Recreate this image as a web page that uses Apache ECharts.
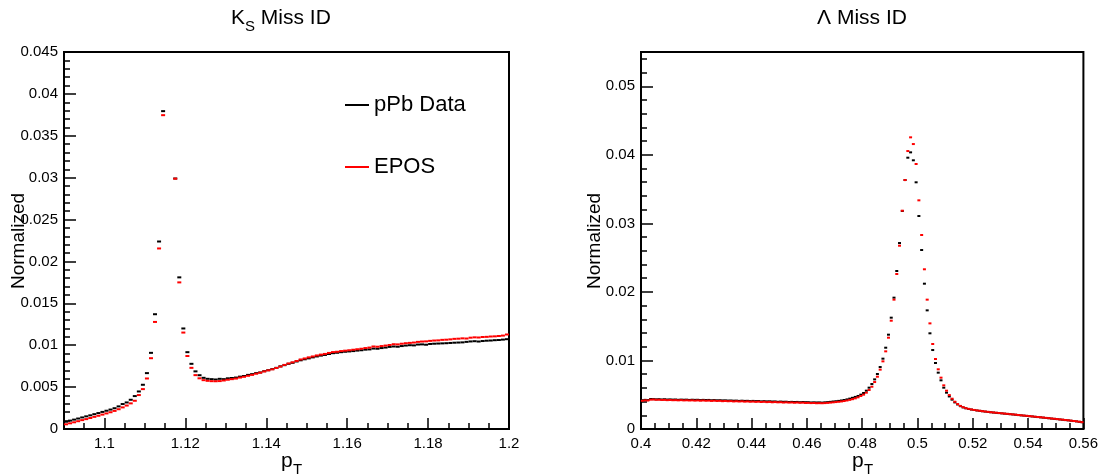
<!DOCTYPE html>
<html>
<head>
<meta charset="utf-8">
<script src="https://cdn.jsdelivr.net/npm/echarts@6/dist/echarts.min.js"></script>
<style>
html,body{margin:0;padding:0;background:#fff;}
#chart{width:1101px;height:476px;}
</style>
</head>
<body>
<div id="chart"></div>
<script>
// ---------- K_S Miss ID panel (bin centres, 0.001 wide) ----------
const ksX = [
1.0905,1.0915,1.0925,1.0935,1.0945,1.0955,1.0965,1.0975,1.0985,1.0995,
1.1005,1.1015,1.1025,1.1035,1.1045,1.1055,1.1065,1.1075,1.1085,1.1095,
1.1105,1.1115,1.1125,1.1135,1.1145,1.1175,1.1185,1.1195,
1.1205,1.1215,1.1225,1.1235,1.1245,1.1255,1.1265,1.1275,1.1285,1.1295,
1.1305,1.1315,1.1325,1.1335,1.1345,1.1355,1.1365,1.1375,1.1385,1.1395,
1.1405,1.1415,1.1425,1.1435,1.1445,1.1455,1.1465,1.1475,1.1485,1.1495,
1.1505,1.1515,1.1525,1.1535,1.1545,1.1555,1.1565,1.1575,1.1585,1.1595,
1.1605,1.1615,1.1625,1.1635,1.1645,1.1655,1.1665,1.1675,1.1685,1.1695,
1.1705,1.1715,1.1725,1.1735,1.1745,1.1755,1.1765,1.1775,1.1785,1.1795,
1.1805,1.1815,1.1825,1.1835,1.1845,1.1855,1.1865,1.1875,1.1885,1.1895,
1.1905,1.1915,1.1925,1.1935,1.1945,1.1955,1.1965,1.1975,1.1985,1.1995
];
const ksData = [
0.00087,0.00100,0.00112,0.00125,0.00138,0.00151,0.00163,0.00177,0.00190,0.00204,
0.00218,0.00232,0.00248,0.00270,0.00298,0.00317,0.00349,0.00393,0.00448,0.00528,
0.00667,0.00909,0.01370,0.02238,0.03794,0.02990,0.01810,0.01200,
0.00917,0.00778,0.00688,0.00642,0.00611,0.00599,0.00595,0.00591,0.00599,0.00595,
0.00605,0.00609,0.00614,0.00625,0.00633,0.00646,0.00655,0.00667,0.00675,0.00690,
0.00702,0.00715,0.00730,0.00748,0.00762,0.00778,0.00790,0.00806,0.00820,0.00832,
0.00843,0.00855,0.00866,0.00876,0.00884,0.00895,0.00905,0.00910,0.00917,0.00922,
0.00926,0.00930,0.00936,0.00940,0.00947,0.00950,0.00960,0.00958,0.00966,0.00972,
0.00980,0.00985,0.00982,0.00990,0.00996,0.01000,0.00998,0.01008,0.01010,0.01006,
0.01015,0.01018,0.01020,0.01022,0.01024,0.01027,0.01030,0.01032,0.01034,0.01040,
0.01045,0.01048,0.01044,0.01050,0.01054,0.01056,0.01060,0.01062,0.01067,0.01072
];
const ksEpos = [
0.00056,0.00068,0.00080,0.00093,0.00106,0.00118,0.00131,0.00145,0.00158,0.00172,
0.00186,0.00200,0.00216,0.00236,0.00258,0.00280,0.00306,0.00337,0.00405,0.00476,
0.00603,0.00845,0.01278,0.02155,0.03746,0.02988,0.01750,0.01151,
0.00871,0.00730,0.00643,0.00605,0.00583,0.00575,0.00571,0.00570,0.00572,0.00579,
0.00588,0.00595,0.00602,0.00614,0.00623,0.00635,0.00646,0.00660,0.00672,0.00687,
0.00700,0.00712,0.00728,0.00745,0.00765,0.00782,0.00796,0.00812,0.00830,0.00842,
0.00855,0.00866,0.00878,0.00888,0.00896,0.00908,0.00918,0.00922,0.00930,0.00935,
0.00940,0.00946,0.00952,0.00958,0.00966,0.00972,0.00985,0.00982,0.00990,0.00996,
0.01003,0.01012,0.01010,0.01018,0.01024,0.01028,0.01032,0.01040,0.01044,0.01046,
0.01052,0.01056,0.01058,0.01064,0.01066,0.01070,0.01076,0.01078,0.01082,0.01080,
0.01090,0.01094,0.01092,0.01098,0.01100,0.01104,0.01106,0.01110,0.01115,0.01128
];
const ksXTicks = [1.1, 1.12, 1.14, 1.16, 1.18, 1.2];
const ksYTicks = [0, 0.005, 0.01, 0.015, 0.02, 0.025, 0.03, 0.035, 0.04, 0.045];

// ---------- Lambda Miss ID panel ----------
const lamX = [
0.4005,0.4015,0.4025,0.4035,0.4045,0.4055,0.4065,0.4075,0.4085,0.4095,
0.4105,0.4115,0.4125,0.4135,0.4145,0.4155,0.4165,0.4175,0.4185,0.4195,
0.4205,0.4215,0.4225,0.4235,0.4245,0.4255,0.4265,0.4275,0.4285,0.4295,
0.4305,0.4315,0.4325,0.4335,0.4345,0.4355,0.4365,0.4375,0.4385,0.4395,
0.4405,0.4415,0.4425,0.4435,0.4445,0.4455,0.4465,0.4475,0.4485,0.4495,
0.4505,0.4515,0.4525,0.4535,0.4545,0.4555,0.4565,0.4575,0.4585,0.4595,
0.4605,0.4615,0.4625,0.4635,0.4645,0.4655,0.4665,0.4675,0.4685,0.4695,
0.4705,0.4715,0.4725,0.4735,0.4745,0.4755,0.4765,0.4775,0.4785,0.4795,
0.4805,0.4815,0.4825,0.4835,0.4845,0.4855,0.4865,0.4875,0.4885,0.4895,
0.4905,0.4915,0.4925,0.4935,0.4945,0.4955,0.4965,0.4975,0.4985,0.4995,
0.5005,0.5015,0.5025,0.5035,0.5045,0.5055,0.5065,0.5075,0.5085,0.5095,
0.5105,0.5115,0.5125,0.5135,0.5145,0.5155,0.5165,0.5175,0.5185,0.5195,
0.5205,0.5215,0.5225,0.5235,0.5245,0.5255,0.5265,0.5275,0.5285,0.5295,
0.5305,0.5315,0.5325,0.5335,0.5345,0.5355,0.5365,0.5375,0.5385,0.5395,
0.5405,0.5415,0.5425,0.5435,0.5445,0.5455,0.5465,0.5475,0.5485,0.5495,
0.5505,0.5515,0.5525,0.5535,0.5545,0.5555,0.5565,0.5575,0.5585,0.5595
];
const lamData = [
0.00420,0.00425,0.00422,0.00438,0.00436,0.00433,0.00435,0.00431,0.00434,0.00430,
0.00432,0.00429,0.00430,0.00426,0.00429,0.00427,0.00428,0.00424,0.00427,0.00425,
0.00426,0.00422,0.00425,0.00423,0.00424,0.00419,0.00422,0.00419,0.00420,0.00417,
0.00418,0.00415,0.00416,0.00413,0.00414,0.00410,0.00413,0.00410,0.00411,0.00407,
0.00410,0.00407,0.00408,0.00403,0.00406,0.00403,0.00404,0.00401,0.00402,0.00397,
0.00400,0.00397,0.00398,0.00394,0.00396,0.00394,0.00395,0.00391,0.00394,0.00391,
0.00391,0.00387,0.00389,0.00387,0.00388,0.00385,0.00389,0.00392,0.00396,0.00401,
0.00405,0.00410,0.00416,0.00423,0.00432,0.00443,0.00455,0.00468,0.00482,0.00501,
0.00525,0.00559,0.00603,0.00656,0.00724,0.00802,0.00904,0.01026,0.01186,0.01376,
0.01624,0.01916,0.02305,0.02713,0.03180,0.03632,0.03958,0.04036,0.03920,0.03599,
0.03107,0.02611,0.02120,0.01731,0.01396,0.01152,0.00963,0.00822,0.00710,0.00603,
0.00530,0.00475,0.00428,0.00388,0.00358,0.00333,0.00315,0.00302,0.00292,0.00284,
0.00277,0.00270,0.00265,0.00259,0.00254,0.00249,0.00244,0.00240,0.00236,0.00232,
0.00228,0.00224,0.00220,0.00216,0.00212,0.00208,0.00203,0.00199,0.00195,0.00191,
0.00187,0.00183,0.00178,0.00174,0.00170,0.00166,0.00161,0.00157,0.00152,0.00148,
0.00144,0.00139,0.00135,0.00130,0.00126,0.00121,0.00116,0.00111,0.00105,0.00099
];
const lamEpos = [
0.00412,0.00418,0.00416,0.00428,0.00430,0.00426,0.00427,0.00424,0.00425,0.00421,
0.00423,0.00420,0.00421,0.00418,0.00421,0.00417,0.00419,0.00416,0.00418,0.00414,
0.00417,0.00413,0.00416,0.00412,0.00414,0.00410,0.00413,0.00409,0.00411,0.00406,
0.00409,0.00405,0.00407,0.00402,0.00405,0.00401,0.00404,0.00399,0.00402,0.00398,
0.00400,0.00396,0.00399,0.00394,0.00397,0.00392,0.00395,0.00390,0.00393,0.00389,
0.00391,0.00386,0.00389,0.00385,0.00387,0.00383,0.00386,0.00382,0.00384,0.00380,
0.00381,0.00378,0.00379,0.00376,0.00377,0.00376,0.00378,0.00381,0.00385,0.00389,
0.00393,0.00397,0.00402,0.00408,0.00416,0.00425,0.00435,0.00447,0.00462,0.00482,
0.00501,0.00530,0.00569,0.00617,0.00685,0.00763,0.00866,0.00987,0.01133,0.01332,
0.01580,0.01887,0.02261,0.02674,0.03185,0.03632,0.04055,0.04255,0.04157,0.03866,
0.03336,0.02830,0.02330,0.01887,0.01541,0.01240,0.01021,0.00871,0.00749,0.00637,
0.00559,0.00495,0.00442,0.00398,0.00364,0.00337,0.00318,0.00304,0.00294,0.00285,
0.00278,0.00271,0.00266,0.00260,0.00255,0.00250,0.00245,0.00241,0.00237,0.00233,
0.00229,0.00225,0.00221,0.00217,0.00213,0.00209,0.00204,0.00200,0.00196,0.00192,
0.00188,0.00184,0.00179,0.00175,0.00171,0.00167,0.00162,0.00158,0.00153,0.00149,
0.00145,0.00140,0.00136,0.00131,0.00127,0.00122,0.00117,0.00112,0.00106,0.00100
];
const lamXTicks = [0.4, 0.42, 0.44, 0.46, 0.48, 0.5, 0.52, 0.54, 0.56];
const lamYTicks = [0, 0.01, 0.02, 0.03, 0.04, 0.05];

const seriesNames = ['pPb Data', 'EPOS'];
const titles = ['Miss ID', 'Λ Miss ID'];

// ---------- helpers (tick positions only) ----------
function steps(a, b, s) {
  const out = [];
  const n = Math.round((b - a) / s);
  for (let i = 0; i <= n; i++) out.push(+(a + i * s).toFixed(5));
  return out;
}
const FONT = 'Liberation Sans, Arial, Helvetica, sans-serif';
const fmt = v => String(parseFloat((+v).toFixed(4)));
const pairs = (xs, ys) => xs.map((x, i) => [x, ys[i]]);

function xAxes(grid, min, max, major, minor) {
  return [
    { type: 'value', gridIndex: grid, min, max, position: 'bottom',
      axisLine: { show: true, onZero: false, lineStyle: { color: '#000', width: 2 } },
      axisTick: { show: true, inside: true, length: 11, customValues: major, lineStyle: { color: '#000', width: 1.5 } },
      axisLabel: { show: true, customValues: major, formatter: fmt, color: '#000', fontSize: 15, fontFamily: FONT, margin: 7 },
      splitLine: { show: false } },
    { type: 'value', gridIndex: grid, min, max, position: 'bottom',
      axisLine: { show: false },
      axisTick: { show: true, inside: true, length: 6, customValues: minor, lineStyle: { color: '#000', width: 1.5 } },
      axisLabel: { show: false }, splitLine: { show: false } }
  ];
}
function yAxes(grid, min, max, major, minor) {
  return [
    { type: 'value', gridIndex: grid, min, max, position: 'left',
      axisLine: { show: true, onZero: false, lineStyle: { color: '#000', width: 2 } },
      axisTick: { show: true, inside: true, length: 12, customValues: major, lineStyle: { color: '#000', width: 1.5 } },
      axisLabel: { show: true, customValues: major, formatter: fmt, color: '#000', fontSize: 15, fontFamily: FONT, margin: 6 },
      splitLine: { show: false } },
    { type: 'value', gridIndex: grid, min, max, position: 'left',
      axisLine: { show: false },
      axisTick: { show: true, inside: true, length: 6, customValues: minor, lineStyle: { color: '#000', width: 1.5 } },
      axisLabel: { show: false }, splitLine: { show: false } }
  ];
}

const chart = echarts.init(document.getElementById('chart'), null, { renderer: 'canvas' });

function scatter(name, xs, ys, color, xi, yi, w) {
  return { type: 'scatter', name, xAxisIndex: xi, yAxisIndex: yi, data: pairs(xs, ys),
    symbol: 'rect', symbolSize: [w, 2], itemStyle: { color, opacity: 1 }, silent: true, animation: false };
}

const txt = (x, y, text, size, align) => ({ type: 'text', x, y, silent: true,
  style: { text, font: size + 'px ' + FONT, fill: '#000', align: align || 'left', verticalAlign: 'middle' } });

const option = {
  backgroundColor: '#fff',
  animation: false,
  grid: [
    { left: 64, top: 52, width: 445, height: 377, show: true, borderColor: '#000', borderWidth: 2, containLabel: false },
    { left: 641, top: 52, width: 446, height: 377, show: true, borderColor: '#000', borderWidth: 2, containLabel: false }
  ],
  xAxis: [].concat(
    xAxes(0, 1.09, 1.2, ksXTicks, steps(1.095, 1.195, 0.005)),
    xAxes(1, 0.4, 0.56, lamXTicks, steps(0.405, 0.555, 0.005))
  ),
  yAxis: [].concat(
    yAxes(0, 0, 0.045, ksYTicks, steps(0.001, 0.044, 0.001)),
    yAxes(1, 0, 0.055, lamYTicks, steps(0.002, 0.054, 0.002))
  ),
  legend: {
    show: true, left: 340, top: 89, orient: 'vertical', itemGap: 40,
    itemWidth: 24, itemHeight: 2, icon: 'rect', selectedMode: false,
    textStyle: { color: '#000', fontSize: 22, fontFamily: FONT },
    data: seriesNames
  },
  series: [
    scatter(seriesNames[0], ksX, ksData, '#000000', 0, 0, 4),
    scatter(seriesNames[1], ksX, ksEpos, '#ff0000', 0, 0, 4),
    scatter(seriesNames[0], lamX, lamData, '#000000', 2, 2, 3),
    scatter(seriesNames[1], lamX, lamEpos, '#ff0000', 2, 2, 3)
  ],
  graphic: [
    txt(231, 18, 'K', 21),
    txt(245, 27, 'S', 15),
    txt(255, 18, ' ' + titles[0], 21),
    txt(862, 18, titles[1], 21, 'center'),
    txt(281, 461, 'p', 21),
    txt(293, 470, 'T', 15),
    txt(852, 461, 'p', 21),
    txt(864, 470, 'T', 15),
    { type: 'text', x: 19, y: 241, rotation: Math.PI / 2, silent: true,
      style: { text: 'Normalized', font: '19px ' + FONT, fill: '#000', align: 'center', verticalAlign: 'middle' } },
    { type: 'text', x: 595, y: 241, rotation: Math.PI / 2, silent: true,
      style: { text: 'Normalized', font: '19px ' + FONT, fill: '#000', align: 'center', verticalAlign: 'middle' } }
  ]
};
chart.setOption(option);
</script>
</body>
</html>
